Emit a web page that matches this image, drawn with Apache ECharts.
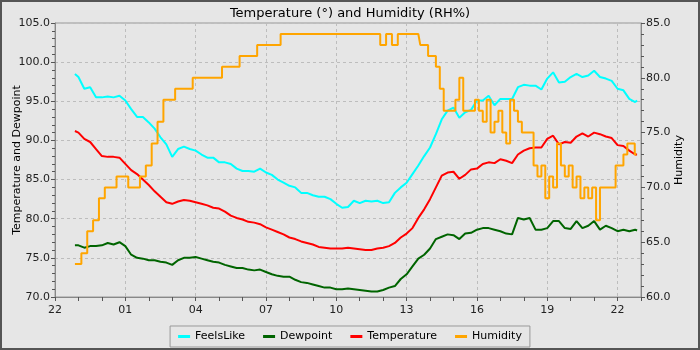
<!DOCTYPE html>
<html>
<head>
<meta charset="utf-8">
<script src="https://cdn.jsdelivr.net/npm/echarts@6/dist/echarts.min.js"></script>
<style>
  html, body { margin: 0; padding: 0; background: #e6e6e6; }
  #chart { width: 700px; height: 350px; }
</style>
</head>
<body>
<div id="chart"></div>
<script>
// sample times (clock), day rolls over after midnight
var times = [
  '22:51', '23:00', '23:15', '23:30', '23:45', '00:00', '00:15', '00:30', '00:45', '01:00',
  '01:15', '01:30', '01:45', '02:00', '02:15', '02:30', '02:45', '03:00', '03:15',
  '03:30', '03:45', '04:00', '04:15', '04:30', '04:45', '05:00', '05:15', '05:30', '05:45',
  '06:00', '06:15', '06:30', '06:45', '07:00', '07:15', '07:30', '07:45', '08:00', '08:15',
  '08:30', '08:45', '09:00', '09:15', '09:30', '09:45', '10:00', '10:15', '10:30', '10:45',
  '11:00', '11:15', '11:30', '11:45', '12:00', '12:15', '12:30', '12:45', '13:00',
  '13:15', '13:30', '13:45', '14:00', '14:15', '14:30', '14:45', '15:00', '15:15', '15:30',
  '15:45', '16:00', '16:15', '16:30', '16:45', '17:00', '17:15', '17:30', '17:45', '18:00',
  '18:15', '18:30', '18:45', '19:00', '19:15', '19:30', '19:45', '20:00', '20:15', '20:30',
  '20:45', '21:00', '21:15', '21:30', '21:45', '22:00', '22:15', '22:30', '22:45', '22:50'
];

var feelsLike = [
  98.5, 98.1, 96.6, 96.8, 95.5, 95.5, 95.6, 95.5, 95.7, 95.1,
  94.0, 93.0, 93.0, 92.3, 91.5, 90.4, 89.5, 87.9, 88.9,
  89.2, 88.9, 88.7, 88.2, 87.8, 87.8, 87.2, 87.2, 87.0, 86.4,
  86.1, 86.1, 86.0, 86.4, 85.9, 85.6, 85.0, 84.6, 84.2, 84.0,
  83.3, 83.3, 83.0, 82.8, 82.8, 82.5, 81.9, 81.4, 81.5, 82.3,
  82.0, 82.3, 82.2, 82.3, 82.0, 82.1, 83.3, 84.0, 84.6,
  85.7, 86.8, 88.0, 89.1, 90.8, 92.7, 93.8, 94.2, 92.9, 93.6,
  93.9, 95.1, 95.1, 95.7, 94.5, 95.3, 95.3, 95.3, 96.8, 97.1,
  97.0, 97.0, 96.5, 97.9, 98.7, 97.4, 97.5, 98.1, 98.5, 98.1,
  98.3, 98.9, 98.1, 97.9, 97.6, 96.6, 96.4, 95.3, 94.9, 95.1
];

var dewpoint = [
  76.6, 76.6, 76.3, 76.5, 76.5, 76.6, 76.9, 76.7, 77.0, 76.5,
  75.4, 75.0, 74.9, 74.7, 74.7, 74.5, 74.4, 74.1, 74.7,
  75.0, 75.0, 75.1, 74.9, 74.7, 74.5, 74.4, 74.1, 73.9, 73.7,
  73.7, 73.5, 73.4, 73.5, 73.2, 72.9, 72.7, 72.6, 72.6, 72.2,
  71.9, 71.8, 71.6, 71.4, 71.2, 71.2, 71.0, 71.0, 71.1, 71.0,
  70.9, 70.8, 70.7, 70.7, 70.9, 71.2, 71.4, 72.3, 72.9,
  73.9, 74.9, 75.4, 76.2, 77.4, 77.7, 78.0, 77.9, 77.4, 78.1,
  78.2, 78.6, 78.8, 78.8, 78.6, 78.4, 78.1, 78.0, 80.1, 79.9,
  80.1, 78.6, 78.6, 78.8, 79.7, 79.7, 78.8, 78.7, 79.7, 78.8,
  79.1, 79.7, 78.6, 79.1, 78.8, 78.4, 78.6, 78.4, 78.6, 78.5
];

var temperature = [
  91.2, 91.0, 90.2, 89.8, 88.9, 88.0, 87.9, 87.9, 87.8, 87.0,
  86.2, 85.7, 85.0, 84.3, 83.5, 82.8, 82.1, 81.9, 82.2,
  82.4, 82.3, 82.1, 81.9, 81.7, 81.4, 81.3, 80.9, 80.4, 80.1,
  79.9, 79.6, 79.5, 79.3, 78.9, 78.6, 78.3, 78.0, 77.6, 77.4,
  77.1, 76.9, 76.7, 76.4, 76.3, 76.2, 76.2, 76.2, 76.3, 76.2,
  76.1, 76.0, 76.0, 76.2, 76.3, 76.5, 76.9, 77.6, 78.1,
  78.8, 80.1, 81.2, 82.5, 84.0, 85.5, 85.9, 86.0, 85.1, 85.6,
  86.3, 86.4, 87.0, 87.2, 87.1, 87.6, 87.4, 87.1, 88.2, 88.7,
  89.0, 89.1, 89.1, 90.2, 90.6, 89.5, 89.8, 89.7, 90.5, 90.9,
  90.5, 91.0, 90.8, 90.5, 90.3, 89.4, 89.3, 88.7, 88.2, 88.2
];

// humidity has its own, denser sampling in the afternoon
var humTimes = [
  '22:51', '23:00', '23:15', '23:30', '23:45', '00:00', '00:15', '00:30', '00:45', '01:00',
  '01:15', '01:30', '01:45', '02:00', '02:15', '02:30', '02:45', '03:00', '03:15',
  '03:30', '03:45', '04:00', '04:15', '04:30', '04:45', '05:00', '05:15', '05:30', '05:45',
  '06:00', '06:15', '06:30', '06:45', '07:00', '07:15', '07:30', '07:45', '08:00', '08:15',
  '08:30', '08:45', '09:00', '09:15', '09:30', '09:45', '10:00', '10:15', '10:30', '10:45',
  '11:00', '11:15', '11:30', '11:45', '12:00', '12:15', '12:30', '12:45', '13:00',
  '13:15', '13:30', '13:40', '13:50', '14:00', '14:10', '14:20', '14:30', '14:40', '14:50',
  '15:00', '15:10', '15:20', '15:30', '15:40', '15:50', '16:00', '16:10', '16:20', '16:30',
  '16:40', '16:50', '17:00', '17:10', '17:20', '17:30', '17:40', '17:50', '18:00', '18:10',
  '18:20', '18:30', '18:40', '18:50', '19:00', '19:10', '19:20', '19:30', '19:40', '19:50',
  '20:00', '20:10', '20:20', '20:30', '20:40', '20:50', '21:00', '21:10', '21:20', '21:30',
  '21:40', '21:50', '22:00', '22:10', '22:20', '22:30', '22:40', '22:48'
];

var humidity = [
  63, 63, 64, 66, 67, 69, 70, 70, 71, 71,
  70, 70, 71, 72, 74, 76, 78, 78, 79,
  79, 79, 80, 80, 80, 80, 80, 81, 81, 81,
  82, 82, 82, 83, 83, 83, 83, 84, 84, 84,
  84, 84, 84, 84, 84, 84, 84, 84, 84, 84,
  84, 84, 84, 84, 83, 84, 83, 84, 84,
  84, 84, 83, 83, 82, 82, 81, 79, 77, 77,
  77, 78, 80, 77, 77, 77, 78, 77, 76, 78,
  75, 76, 77, 75, 74, 78, 77, 76, 75, 75,
  75, 72, 71, 72, 69, 71, 70, 74, 72, 71,
  72, 70, 71, 69, 70, 69, 70, 67, 70, 70,
  70, 70, 72, 72, 73, 74, 74, 73
];

// hours since 22:00 on the first day
function toHours(list) {
  var out = [];
  var prev = -1;
  list.forEach(function (s) {
    var p = s.split(':');
    var t = Number(p[0]) * 60 + Number(p[1]) - 22 * 60;
    while (t < prev) t += 1440;
    prev = t;
    out.push(t / 60);
  });
  return out;
}

function pairs(tlist, vals) {
  var h = toHours(tlist);
  return vals.map(function (v, i) { return [h[i], v]; });
}

var font = 'DejaVu Sans';
var chart = echarts.init(document.getElementById('chart'));
chart.setOption({
  backgroundColor: '#e6e6e6',
  animation: false,
  textStyle: { fontFamily: font },
  title: {
    text: 'Temperature (°) and Humidity (RH%)',
    left: 'center',
    top: 2,
    textStyle: { fontFamily: font, fontSize: 13, fontWeight: 'normal', color: '#000' }
  },
  graphic: [{
    type: 'rect',
    shape: { x: 1, y: 1, width: 698, height: 348 },
    style: { fill: 'none', stroke: '#555', lineWidth: 2 },
    silent: true
  }],
  legend: {
    bottom: 3,
    left: 'center',
    itemWidth: 12,
    itemHeight: 3,
    itemGap: 18,
    padding: [5, 8],
    borderColor: '#999',
    borderWidth: 1,
    icon: 'rect',
    textStyle: { fontFamily: font, fontSize: 11, color: '#000' },
    data: ['FeelsLike', 'Dewpoint', 'Temperature', 'Humidity']
  },
  grid: {
    left: 55, right: 59, top: 23, bottom: 53,
    outerBoundsMode: 'none',
    containLabel: false,
    show: true, borderColor: '#999', borderWidth: 1, backgroundColor: '#e6e6e6'
  },
  xAxis: {
    type: 'value',
    min: 0,
    max: 25,
    interval: 3,
    axisLine: { lineStyle: { color: '#888' } },
    axisTick: { length: 4, lineStyle: { color: '#555' } },
    minorTick: { show: true, splitNumber: 3, length: 4, lineStyle: { color: '#555' } },
    axisLabel: {
      color: '#222', fontSize: 11, fontFamily: font,
      showMaxLabel: false,
      formatter: function (v) {
        if (v > 24) return '';
        var h = (22 + v) % 24;
        return (h < 10 ? '0' : '') + h;
      }
    },
    splitLine: { show: true, lineStyle: { color: '#bdbdbd', type: [3, 3] } }
  },
  yAxis: [{
    type: 'value',
    min: 70,
    max: 105,
    interval: 5,
    name: 'Temperature and Dewpoint',
    nameLocation: 'middle',
    nameRotate: 90,
    nameGap: 32,
    nameMoveOverlap: false,
    nameTextStyle: { fontFamily: font, fontSize: 11, color: '#000' },
    axisLine: { show: true, lineStyle: { color: '#888' } },
    axisTick: { show: true, length: 4, lineStyle: { color: '#555' } },
    minorTick: { show: true, splitNumber: 5, length: 3, lineStyle: { color: '#555' } },
    axisLabel: {
      color: '#222', fontSize: 11, fontFamily: font, margin: 5,
      formatter: function (v) { return v.toFixed(1); }
    },
    splitLine: { show: true, lineStyle: { color: '#bdbdbd', type: [3, 3] } }
  }, {
    type: 'value',
    min: 60,
    max: 85,
    interval: 5,
    name: 'Humidity',
    nameLocation: 'middle',
    nameRotate: 90,
    nameGap: 33,
    nameMoveOverlap: false,
    nameTextStyle: { fontFamily: font, fontSize: 11, color: '#000' },
    axisLine: { show: true, lineStyle: { color: '#888' } },
    axisTick: { show: true, length: 4, lineStyle: { color: '#555' } },
    minorTick: { show: true, splitNumber: 5, length: 3, lineStyle: { color: '#555' } },
    axisLabel: {
      color: '#222', fontSize: 11, fontFamily: font, margin: 5,
      formatter: function (v) { return v.toFixed(1); }
    },
    splitLine: { show: false }
  }],
  series: [
    { name: 'FeelsLike', type: 'line', data: pairs(times, feelsLike), showSymbol: false,
      itemStyle: { color: '#00ffff' }, lineStyle: { width: 2, color: '#00ffff' } },
    { name: 'Dewpoint', type: 'line', data: pairs(times, dewpoint), showSymbol: false,
      itemStyle: { color: '#006400' }, lineStyle: { width: 2, color: '#006400' } },
    { name: 'Temperature', type: 'line', data: pairs(times, temperature), showSymbol: false,
      itemStyle: { color: '#ff0000' }, lineStyle: { width: 2, color: '#ff0000' } },
    { name: 'Humidity', type: 'line', yAxisIndex: 1, step: 'middle', data: pairs(humTimes, humidity), showSymbol: false,
      itemStyle: { color: '#ffa500' }, lineStyle: { width: 2, color: '#ffa500' } }
  ]
});
</script>
</body>
</html>
